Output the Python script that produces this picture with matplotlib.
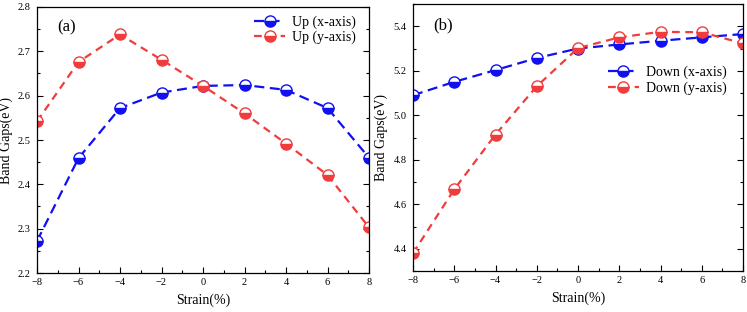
import numpy as np
import matplotlib
matplotlib.use('Agg')
import matplotlib.pyplot as plt
from matplotlib.ticker import MultipleLocator

plt.rcParams['font.family'] = ['Liberation Serif', 'DejaVu Serif']
plt.rcParams['mathtext.fontset'] = 'stix'

strain = [-8, -6, -4, -2, 0, 2, 4, 6, 8]

# panel (a): Up
up_x = [2.272, 2.459, 2.572, 2.607, 2.622, 2.624, 2.613, 2.572, 2.460]
up_y = [2.542, 2.676, 2.738, 2.681, 2.622, 2.560, 2.492, 2.421, 2.303]

# panel (b): Down
down_x = [5.090, 5.150, 5.203, 5.257, 5.300, 5.318, 5.335, 5.350, 5.365]
down_y = [4.380, 4.667, 4.913, 5.130, 5.302, 5.350, 5.375, 5.373, 5.323]

blue = '#1010f0'
red = '#f03c3c'

fig = plt.figure(figsize=(7.47, 3.12), dpi=100)
ax1 = fig.add_axes([37/747, 39/312, 332/747, 266/312])
ax2 = fig.add_axes([413/747, 41/312, 330/747, 267/312])


def draw(ax, xs, ys, color, fill, label, dashes):
    ax.plot(xs, ys, color=color, lw=1.6, dashes=dashes, marker='o', ms=8,
            fillstyle=fill, markerfacecoloralt='white', mec=color, mew=1.0,
            label=label)


draw(ax1, strain, up_x, blue, 'bottom', 'Up (x-axis)', (4.5, 2.5))
draw(ax1, strain, up_y, red, 'bottom', 'Up (y-axis)', (3.5, 2.5))
draw(ax2, strain, down_x, blue, 'bottom', 'Down (x-axis)', (4.5, 2.5))
draw(ax2, strain, down_y, red, 'bottom', 'Down (y-axis)', (3.5, 2.5))

ax1.set_ylim(2.2, 2.8)
ax1.yaxis.set_major_locator(MultipleLocator(0.1))
ax1.yaxis.set_minor_locator(MultipleLocator(0.05))
ax2.set_ylim(4.3, 5.5)
ax2.set_yticks([4.4, 4.6, 4.8, 5.0, 5.2, 5.4])
ax2.yaxis.set_minor_locator(MultipleLocator(0.1))

for ax, tag, ty, lx in [(ax1, '(a)', 0.955, -0.072), (ax2, '(b)', 0.95, -0.075)]:
    ax.set_xlim(-8, 8)
    ax.xaxis.set_major_locator(MultipleLocator(2))
    ax.xaxis.set_minor_locator(MultipleLocator(1))
    ax.tick_params(which='both', direction='in', right=True, top=False,
                   labelsize=7.5, width=0.8)
    ax.tick_params(which='major', length=4)
    ax.tick_params(which='minor', length=2.5)
    ax.tick_params(axis='y', pad=4.5)
    for sp in ax.spines.values():
        sp.set_linewidth(0.9)
    ax.set_xlabel('Strain(%)', fontsize=10, labelpad=5)
    ax.set_ylabel('Band Gaps(eV)', fontsize=10)
    ax.yaxis.set_label_coords(lx, 0.5)
    ax.text(0.06, ty, tag, transform=ax.transAxes, fontsize=12,
            va='top', ha='left')

ax1.legend(loc='upper right', bbox_to_anchor=(0.985, 1.0), frameon=False,
           fontsize=10, handlelength=2.2, labelspacing=0.15, borderaxespad=0.2,
           handletextpad=0.5)
ax2.legend(loc='upper right', bbox_to_anchor=(0.975, 0.8), frameon=False,
           fontsize=10, handlelength=2.2, labelspacing=0.15, borderaxespad=0.2,
           handletextpad=0.5)

fig.savefig('out.png', dpi=100)
